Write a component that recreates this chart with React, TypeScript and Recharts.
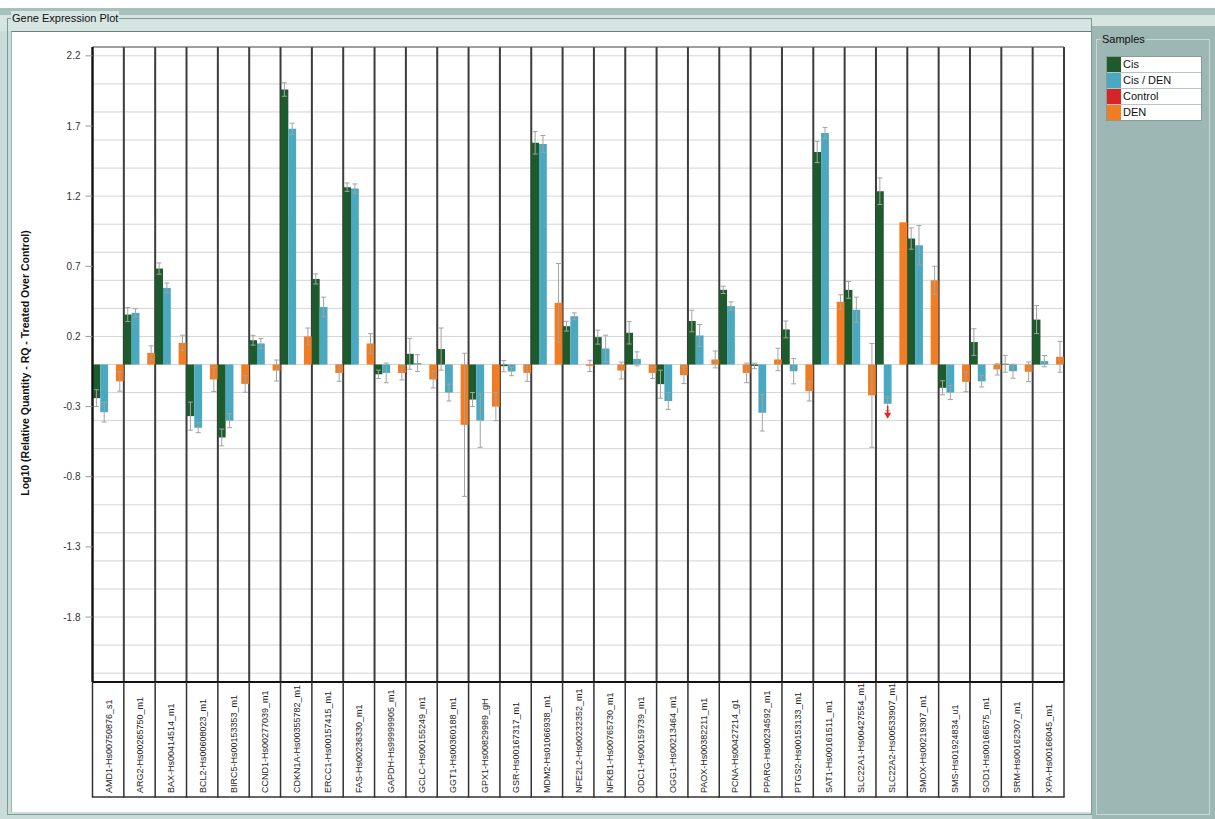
import React from 'react';
import { BarChart, Bar, XAxis, YAxis, CartesianGrid, ErrorBar, ReferenceLine, Legend, LabelList } from 'recharts';

const genes = [
  'AMD1-Hs00750876_s1', 'ARG2-Hs00265750_m1', 'BAX-Hs00414514_m1', 'BCL2-Hs00608023_m1',
  'BIRC5-Hs00153353_m1', 'CCND1-Hs00277039_m1', 'CDKN1A-Hs00355782_m1', 'ERCC1-Hs00157415_m1',
  'FAS-Hs00236330_m1', 'GAPDH-Hs99999905_m1', 'GCLC-Hs00155249_m1', 'GGT1-Hs00360188_m1',
  'GPX1-Hs00829989_gH', 'GSR-Hs00167317_m1', 'MDM2-Hs01066938_m1', 'NFE2L2-Hs00232352_m1',
  'NFKB1-Hs00765730_m1', 'ODC1-Hs00159739_m1', 'OGG1-Hs00213464_m1', 'PAOX-Hs00382211_m1',
  'PCNA-Hs00427214_g1', 'PPARG-Hs00234592_m1', 'PTGS2-Hs00153133_m1', 'SAT1-Hs00161511_m1',
  'SLC22A1-Hs00427554_m1', 'SLC22A2-Hs00533907_m1', 'SMOX-Hs00219307_m1', 'SMS-Hs01924834_u1',
  'SOD1-Hs00166575_m1', 'SRM-Hs00162307_m1', 'XPA-Hs00166045_m1',
];

const cis = [-0.24, 0.356, 0.684, -0.368, -0.52, 0.173, 1.96, 0.61, 1.264, -0.07, 0.076, 0.11, -0.25, -0.012, 1.58, 0.273, 0.195, 0.226, -0.14, 0.31, 0.532, -0.01, 0.25, 1.515, 0.532, 1.235, 0.898, -0.166, 0.16, 0.005, 0.32];
const cisErr = [0.06, 0.05, 0.04, 0.1, 0.06, 0.035, 0.048, 0.036, 0.03, 0.03, 0.11, 0.15, 0.05, 0.04, 0.08, 0.035, 0.05, 0.08, 0.1, 0.077, 0.026, 0.02, 0.06, 0.076, 0.06, 0.095, 0.076, 0.05, 0.095, 0.06, 0.1];
const cisDen = [-0.34, 0.368, 0.546, -0.451, -0.4, 0.15, 1.68, 0.41, 1.254, -0.06, 0.01, -0.2, -0.4, -0.05, 1.572, 0.344, 0.114, 0.04, -0.26, 0.207, 0.416, -0.344, -0.048, 1.65, 0.39, -0.28, 0.85, -0.2, -0.12, -0.048, 0.024];
const cisDenErr = [0.07, 0.03, 0.035, 0.035, 0.05, 0.035, 0.04, 0.07, 0.033, 0.07, 0.06, 0.06, 0.19, 0.03, 0.06, 0.024, 0.095, 0.05, 0.06, 0.078, 0.03, 0.13, 0.09, 0.04, 0.09, 0.05, 0.14, 0.05, 0.04, 0.05, 0.04];
// flag drawn as a small red arrow under the bar (SLC22A2, Cis / DEN)
const cisDenFlag = [0, 0, 0, 0, 0, 0, 0, 0, 0, 0, 0, 0, 0, 0, 0, 0, 0, 0, 0, 0, 0, 0, 0, 0, 0, 1, 0, 0, 0, 0, 0];
const control = [0, 0, 0, 0, 0, 0, 0, 0, 0, 0, 0, 0, 0, 0, 0, 0, 0, 0, 0, 0, 0, 0, 0, 0, 0, 0, 0, 0, 0, 0, 0];
const controlErr = [0.095, 0.095, 0.095, 0.15, 0.095, 0.09, 0.14, 0.1, 0.134, 0.09, 0.205, 0.165, 0.1, 0.09, 0.59, 0.095, 0.1, 0.09, 0.1, 0.1, 0.12, 0.19, 0.1, 0.11, 0.195, null, 0.1, 0.1, 0.1, 0.095, 0.1];
const den = [-0.12, 0.083, 0.154, -0.107, -0.138, -0.043, 0.2, -0.06, 0.15, -0.06, -0.107, -0.43, -0.3, -0.06, 0.44, -0.01, -0.043, -0.06, -0.076, 0.036, -0.06, 0.036, -0.19, 0.447, -0.22, 1.014, 0.6, -0.124, -0.035, -0.052, 0.055];
const denErr = [0.07, 0.05, 0.055, 0.085, 0.06, 0.075, 0.06, 0.06, 0.07, 0.05, 0.06, 0.51, 0.1, 0.06, 0.28, 0.04, 0.06, 0.04, 0.06, 0.06, 0.07, 0.08, 0.07, 0.05, 0.37, null, 0.1, 0.07, 0.04, 0.07, 0.11];

const seriesNames = ['Cis', 'Cis / DEN', 'Control', 'DEN'];
const seriesColors = ['#1d5a2c', '#4aa8c0', '#d7242b', '#f27c21'];

const yTicks = [2.2, 1.7, 1.2, 0.7, 0.2, -0.3, -0.8, -1.3, -1.8];
const gridTicks = Array.from({ length: 45 }, (_, i) => Math.round((-2.2 + i * 0.1) * 10) / 10);
const DOMAIN: [number, number] = [-2.263, 2.263];

const data = genes.map((g, i) => ({
  gene: g,
  cis: cis[i], cisErr: cisErr[i],
  cisDen: cisDen[i], cisDenErr: cisDenErr[i], cisDenFlag: cisDenFlag[i],
  control: control[i], controlErr: controlErr[i],
  den: den[i], denErr: denErr[i],
}));

const W = 1215;
const H = 819;
const PLOT_LEFT = 92.5;
const PLOT_RIGHT = 1064;
const PLOT_TOP = 47;
const PLOT_BOTTOM = 682;
const LABEL_BOTTOM = 797;
const BAND = (PLOT_RIGHT - PLOT_LEFT) / genes.length;
const FONT = '"Liberation Sans", Arial, sans-serif';
const verticalPts = Array.from({ length: genes.length + 1 }, (_, i) => PLOT_LEFT + i * BAND);

const XTick = (props: any) => {
  const { x, payload, index } = props;
  const left = x - BAND / 2;
  const right = x + BAND / 2;
  const tx = x + 3.5;
  const ty = LABEL_BOTTOM - 4;
  return (
    <g>
      <line x1={left} y1={PLOT_BOTTOM} x2={left} y2={LABEL_BOTTOM} stroke="#333" strokeWidth={1.5} />
      {index === genes.length - 1 && (
        <line x1={right} y1={PLOT_BOTTOM} x2={right} y2={LABEL_BOTTOM} stroke="#333" strokeWidth={1.5} />
      )}
      <line x1={left - 0.75} y1={LABEL_BOTTOM} x2={right + 0.75} y2={LABEL_BOTTOM} stroke="#333" strokeWidth={1.5} />
      <text x={tx} y={ty} transform={`rotate(-90 ${tx} ${ty})`} fontSize={9} fill="#222" fontFamily={FONT} textAnchor="start">
        {payload.value}
      </text>
    </g>
  );
};

const YLabel = () => (
  <text x={29} y={363} transform="rotate(-90 29 363)" textAnchor="middle" fontSize={10.5} fontWeight="bold" fill="#111" fontFamily={FONT}>
    Log10 (Relative Quantity - RQ - Treated Over Control)
  </text>
);

const ArrowMark = (props: any) => {
  const { x, y, width, height, value } = props;
  if (!value) return null;
  const cx = x + width / 2;
  const end = height < 0 ? y : y + height;
  return (
    <g>
      <line x1={cx} y1={end + 2} x2={cx} y2={end + 10} stroke="#e0242b" strokeWidth={1.5} />
      <polygon points={`${cx - 3.5},${end + 9} ${cx + 3.5},${end + 9} ${cx},${end + 15}`} fill="#e0242b" />
    </g>
  );
};

const LegendContent = (props: any) => {
  const payload = props.payload || [];
  return (
    <div style={{ width: 94, border: '1px solid #8a9a98', background: '#fff', fontFamily: FONT, fontSize: 11 }}>
      {payload.map((p: any, i: number) => (
        <div key={i} style={{ display: 'flex', height: 15, borderTop: i ? '1px solid #b8c4c2' : 'none' }}>
          <div style={{ width: 14, background: p.color }} />
          <div style={{ paddingLeft: 2, lineHeight: '15px', color: '#111' }}>{p.value}</div>
        </div>
      ))}
    </div>
  );
};

export default function App() {
  return (
    <div style={{ position: 'absolute', left: 0, top: 0, width: W, height: H, background: '#c9dcd9', overflow: 'hidden', fontFamily: FONT }}>
      <div style={{ position: 'absolute', left: 0, top: 0, width: W, height: 8, background: '#ffffff' }} />
      <div style={{ position: 'absolute', left: 0, top: 8, width: W, height: 7, background: '#a6c0bc' }} />
      <div style={{ position: 'absolute', left: 0, top: 15, width: W, height: 16, background: '#d6e4e2' }} />
      <div style={{ position: 'absolute', left: 7, top: 18, width: 1085, height: 797, border: '1px solid #7d9a96', boxSizing: 'border-box' }} />
      <div style={{ position: 'absolute', left: 11, top: 11, padding: '0 1px', background: '#d6e4e2', fontSize: 11, color: '#111', lineHeight: '14px' }}>
        Gene Expression Plot
      </div>
      <div style={{ position: 'absolute', left: 11, top: 31, width: 1080, height: 781, background: '#ffffff', borderTop: '1px solid #6a7f7c', borderLeft: '1px solid #9fb5b2', boxSizing: 'border-box' }} />
      <div style={{ position: 'absolute', left: 1092, top: 26, width: 123, height: 793, background: '#9db8b4' }} />
      <div style={{ position: 'absolute', left: 1096, top: 39, width: 114, height: 776, border: '1px solid #c6d8d5', boxSizing: 'border-box' }} />
      <div style={{ position: 'absolute', left: 1101, top: 32, padding: '0 1px', background: '#9db8b4', fontSize: 11, color: '#111', lineHeight: '14px' }}>
        Samples
      </div>
      <div style={{ position: 'absolute', left: 0, top: 0 }}>
        <BarChart
          width={W}
          height={H}
          data={data}
          margin={{ top: PLOT_TOP, right: W - PLOT_RIGHT, bottom: 22, left: 12 }}
          barCategoryGap={0}
          barGap={0}
          barSize={7.8}
        >
          <YAxis yAxisId="grid" hide type="number" domain={DOMAIN} ticks={gridTicks} allowDataOverflow />
          <CartesianGrid yAxisId="grid" vertical={false} stroke="#d4d4d4" strokeWidth={1} />
          <CartesianGrid horizontal={false} verticalPoints={verticalPts} stroke="#3c3c3c" strokeWidth={2} />
          <ReferenceLine y={DOMAIN[1]} stroke="#555" strokeWidth={1} />
          <XAxis
            dataKey="gene"
            interval={0}
            height={115}
            tick={<XTick />}
            tickLine={false}
            axisLine={{ stroke: '#111', strokeWidth: 2 }}
          />
          <YAxis
            type="number"
            domain={DOMAIN}
            ticks={yTicks}
            allowDataOverflow
            width={PLOT_LEFT - 12}
            tick={{ fontSize: 10, fill: '#333', fontFamily: FONT }}
            tickLine={{ stroke: '#999' }}
            tickSize={7}
            tickMargin={5}
            axisLine={{ stroke: '#111', strokeWidth: 2 }}
            label={<YLabel />}
          />
          <Legend
            layout="vertical"
            verticalAlign="middle"
            align="center"
            content={<LegendContent />}
            wrapperStyle={{ position: 'absolute', left: 1106, top: 56, width: 96, right: 'auto', bottom: 'auto' }}
          />
          <Bar dataKey="cis" name={seriesNames[0]} fill={seriesColors[0]} isAnimationActive={false}>
            <ErrorBar dataKey="cisErr" width={2.5} stroke="#a3a3a3" strokeWidth={1} />
          </Bar>
          <Bar dataKey="cisDen" name={seriesNames[1]} fill={seriesColors[1]} isAnimationActive={false}>
            <ErrorBar dataKey="cisDenErr" width={2.5} stroke="#a3a3a3" strokeWidth={1} />
            <LabelList dataKey="cisDenFlag" content={<ArrowMark />} />
          </Bar>
          <Bar dataKey="control" name={seriesNames[2]} fill={seriesColors[2]} isAnimationActive={false}>
            <ErrorBar dataKey="controlErr" width={2.5} stroke="#a3a3a3" strokeWidth={1} />
          </Bar>
          <Bar dataKey="den" name={seriesNames[3]} fill={seriesColors[3]} isAnimationActive={false}>
            <ErrorBar dataKey="denErr" width={2.5} stroke="#a3a3a3" strokeWidth={1} />
          </Bar>
        </BarChart>
      </div>
    </div>
  );
}
